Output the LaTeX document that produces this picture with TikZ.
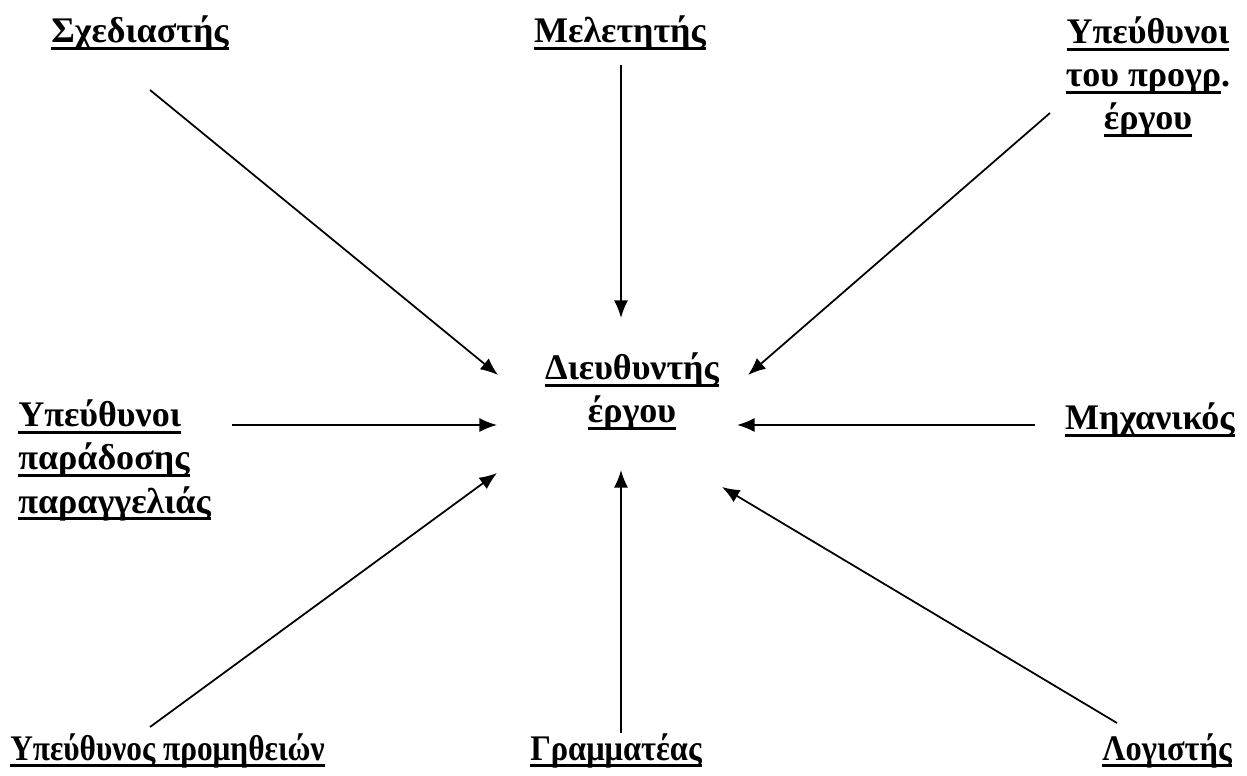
\documentclass[tikz,border=0pt]{standalone}
\usepackage{fontspec}
\setmainfont{Liberation Serif}
\usetikzlibrary{arrows.meta}

% thick underline under one line of a label
\newcommand{\ulbox}[1]{\leavevmode\setbox0=\hbox{#1}\rlap{\copy0}\rule[-4pt]{\wd0}{1.6pt}}

\begin{document}
\begin{tikzpicture}[
  x=0.02cm, y=-0.02cm,
  lbl/.style={font=\bfseries\fontsize{20.5}{24.5}\selectfont, inner sep=0pt},
  arr/.style={-{Latex[length=10pt,width=8pt]}, line width=1pt}
]
\useasboundingbox (0,0) rectangle (1247,776);

% ─── Centre (base = last line) ───
\node[lbl, align=center, anchor=base] (dir) at (632,423)
     {\ulbox{Διευθυντής}\\\ulbox{έργου}};

% ─── Top row ───
\node[lbl, anchor=base] (sxed) at (140,43) {\ulbox{Σχεδιαστής}};
\node[lbl, anchor=base] (mel)  at (620,43) {\ulbox{Μελετητής}};
\node[lbl, align=center, anchor=base] (ypprog) at (1148,130)
     {\ulbox{Υπεύθυνοι}\\\ulbox{του προγρ}.\\\ulbox{έργου}};

% ─── Middle row ───
\node[lbl, align=left, anchor=base west] (yppar) at (18,513)
     {\ulbox{Υπεύθυνοι}\\\ulbox{παράδοσης}\\\ulbox{παραγγελιάς}};
\node[lbl, anchor=base east] (mix) at (1235,430) {\ulbox{Μηχανικός}};

% ─── Bottom row ───
\node[lbl, anchor=base west, xscale=0.87] (yppro) at (10,760) {\ulbox{Υπεύθυνος προμηθειών}};
\node[lbl, anchor=base, xscale=0.9] (gram) at (616,760) {\ulbox{Γραμματέας}};
\node[lbl, anchor=base east, xscale=0.9] (log) at (1232,760) {\ulbox{Λογιστής}};

% ─── Arrow ends ───
\coordinate (sxed-s)   at (150,90);
\coordinate (mel-s)    at (621,65);
\coordinate (ypprog-s) at (1050,113);
\coordinate (yppar-e)  at (232,425);
\coordinate (mix-w)    at (1035,425);
\coordinate (yppro-n)  at (150,727);
\coordinate (gram-n)   at (621,733);
\coordinate (log-n)    at (1117,723);

\coordinate (dir-nw) at (498,375);
\coordinate (dir-n)  at (621,318);
\coordinate (dir-ne) at (748,375);
\coordinate (dir-w)  at (497,425);
\coordinate (dir-e)  at (737,425);
\coordinate (dir-sw) at (497,473);
\coordinate (dir-s)  at (621,470);
\coordinate (dir-se) at (722,487);

% ─── Arrows into the centre ───
\draw[arr] (sxed-s)   -- (dir-nw);
\draw[arr] (mel-s)    -- (dir-n);
\draw[arr] (ypprog-s) -- (dir-ne);
\draw[arr] (yppar-e)  -- (dir-w);
\draw[arr] (mix-w)    -- (dir-e);
\draw[arr] (yppro-n)  -- (dir-sw);
\draw[arr] (gram-n)   -- (dir-s);
\draw[arr] (log-n)    -- (dir-se);

\end{tikzpicture}
\end{document}
